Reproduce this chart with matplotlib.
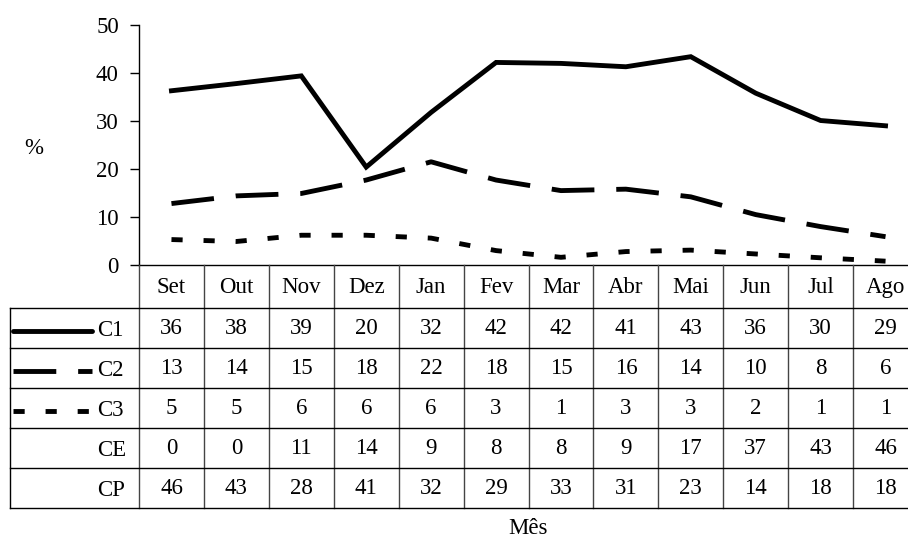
import matplotlib
matplotlib.use("Agg")
import matplotlib.pyplot as plt
from matplotlib.transforms import blended_transform_factory

plt.rcParams["font.family"] = ["Liberation Serif", "DejaVu Serif"]

months = ["Set", "Out", "Nov", "Dez", "Jan", "Fev", "Mar", "Abr", "Mai", "Jun", "Jul", "Ago"]

# values as drawn by the lines
c1_line = [36.3, 37.8, 39.4, 20.4, 31.8, 42.2, 42.0, 41.3, 43.4, 35.8, 30.1, 29.0]
c2_line = [12.8, 14.4, 14.9, 17.7, 21.5, 17.7, 15.5, 15.8, 14.2, 10.5, 8.0, 5.9]
c3_line = [5.3, 4.9, 6.2, 6.2, 5.6, 3.0, 1.6, 2.8, 3.1, 2.3, 1.5, 0.8]

# values printed in the data table
c1_tab = [36, 38, 39, 20, 32, 42, 42, 41, 43, 36, 30, 29]
c2_tab = [13, 14, 15, 18, 22, 18, 15, 16, 14, 10, 8, 6]
c3_tab = [5, 5, 6, 6, 6, 3, 1, 3, 3, 2, 1, 1]
ce_tab = [0, 0, 11, 14, 9, 8, 8, 9, 17, 37, 43, 46]
cp_tab = [46, 43, 28, 41, 32, 29, 33, 31, 23, 14, 18, 18]

row_names = ["C1", "C2", "C3", "CE", "CP"]
row_vals = [c1_tab, c2_tab, c3_tab, ce_tab, cp_tab]

W, H = 908, 540
FS = 16.5
fig = plt.figure(figsize=(W / 100, H / 100), dpi=100)
fig.patch.set_facecolor("white")

# plot area in pixels (the last column runs a bit past the right edge)
x0, x1 = 139, 918
y_top, y_zero = 25, 265
ax = fig.add_axes([x0 / W, 1 - y_zero / H, (x1 - x0) / W, (y_zero - y_top) / H])

# overlay in pixel coordinates for the table and labels
ov = fig.add_axes([0, 0, 1, 1], zorder=3)
ov.set_xlim(0, W)
ov.set_ylim(H, 0)
ov.axis("off")

lw = 3.5
styles = [
    dict(linestyle="-", solid_joinstyle="miter"),
    dict(linestyle=(0, (8.8, 4.5))),
    dict(linestyle=(0, (2.3, 4.3))),
]
x = range(len(months))
for vals, st in zip([c1_line, c2_line, c3_line], styles):
    ax.plot(x, vals, color="black", lw=lw, clip_on=False, **st)

ax.set_xlim(-0.5, len(months) - 0.5)
ax.set_ylim(0, 50)
ax.set_yticks(range(0, 51, 10))
ax.set_xticks([])
ax.spines["top"].set_visible(False)
ax.spines["right"].set_visible(False)
ax.spines["left"].set_linewidth(1)
ax.spines["bottom"].set_linewidth(1)
ax.tick_params(axis="y", direction="out", length=6.5, width=1, pad=8, labelsize=FS)

# data table
tr = blended_transform_factory(ax.transData, ov.transData)
rows_y = [265, 308, 348, 388, 428, 468, 508]
left = 10
for k in range(len(months) + 1):
    ov.plot([k - 0.5, k - 0.5], [rows_y[0], rows_y[-1]], transform=tr,
            color="#444444", lw=1, clip_on=False)
ov.plot([left, left], [rows_y[1], rows_y[-1]], color="black", lw=1)
for yy in rows_y[1:]:
    ov.plot([left, x1], [yy, yy], color="black", lw=1, clip_on=False)

hy = (rows_y[0] + rows_y[1]) / 2
for i, m in enumerate(months):
    ov.text(i, hy + 1, m, transform=tr, ha="center", va="center", fontsize=FS)

for r, (name, vals) in enumerate(zip(row_names, row_vals)):
    cy = (rows_y[r + 1] + rows_y[r + 2]) / 2
    for i, v in enumerate(vals):
        ov.text(i, cy + 1, str(v), transform=tr, ha="center", va="center", fontsize=FS)
    ov.text(97, cy + 3, name, ha="left", va="center", fontsize=FS)
    if r < 3:
        cap = "round" if r == 0 else "butt"
        ov.plot([13, 92], [cy + 3, cy + 3], color="black", lw=lw,
                solid_capstyle=cap, dash_capstyle="butt", **styles[r])

ov.text(34, 149, "%", ha="center", va="center", fontsize=FS)
ov.text((x0 + x1) / 2, 529, "Mês", ha="center", va="center", fontsize=FS)

fig.savefig("out.png", dpi=100)
